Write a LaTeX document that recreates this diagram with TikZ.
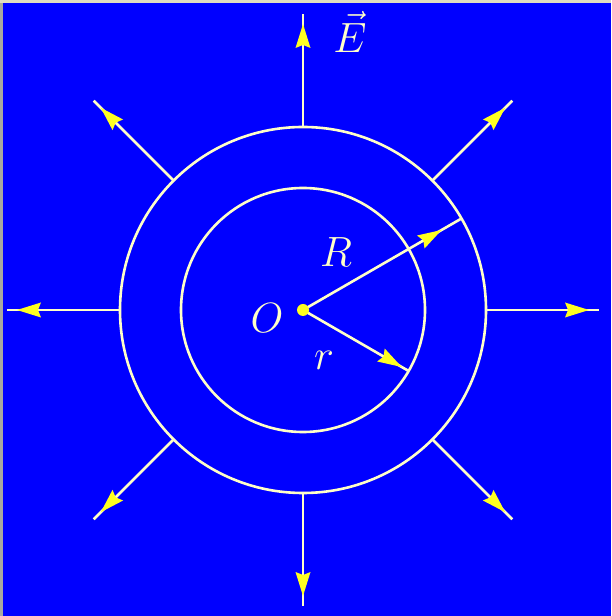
\documentclass[tikz,border=0pt]{standalone}
\usepackage{graphicx}
\usetikzlibrary{arrows.meta,decorations.markings,calc}
\definecolor{bg}{HTML}{0000FF}
\definecolor{ln}{HTML}{FFFFC8}
\definecolor{hd}{HTML}{FFFF20}
\definecolor{frameL}{HTML}{A8A8A0}
\definecolor{frameT}{HTML}{E0DCC0}
\newcommand{\biglbl}[1]{\scalebox{1.7}{\fontsize{24.88}{30}\selectfont $#1$}}
\begin{document}
\begin{tikzpicture}[x=1pt,y=1pt,
  thinline/.style={draw=ln, line width=2.6pt},
  headed/.style={thinline, postaction={decorate, decoration={markings,
      mark=at position #1 with {\arrow[hd, line width=0pt]{Stealth[length=24pt,width=15pt,inset=3pt]}}}}},
  lbl/.style={text=ln, inner sep=0pt}]
\fill[bg] (0,0) rectangle (611,616);
\fill[frameL] (0,0) rectangle (3,616);
\fill[frameT] (0,613) rectangle (611,616);
\useasboundingbox (0,0) rectangle (611,616);
\coordinate (O) at (303,306);
\draw[thinline] (O) circle[radius=183pt];
\draw[thinline] (O) circle[radius=122pt];
\foreach \a in {0,45,...,315}{
  \coordinate (s\a) at ($(O)+(\a:183pt)$);
  \coordinate (e\a) at ($(O)+(\a:296pt)$);
  \draw[headed=-10pt] (s\a) -- (e\a);
}
\coordinate (Rend) at ($(O)+(30:182pt)$);
\coordinate (rend) at ($(O)+(-30:122pt)$);
\draw[headed=-22pt] (O) -- (Rend);
\draw[headed=-8pt] (O) -- (rend);
\fill[hd] (O) circle[radius=6pt];
\node[lbl] (lO) at (267,298) {\biglbl{O}};
\node[lbl] (lR) at (336,364) {\biglbl{R}};
\node[lbl] (lr) at (324,256) {\biglbl{r}};
\node[lbl] (lE) at (350,584) {\biglbl{\vec{E}}};
\end{tikzpicture}
\end{document}
